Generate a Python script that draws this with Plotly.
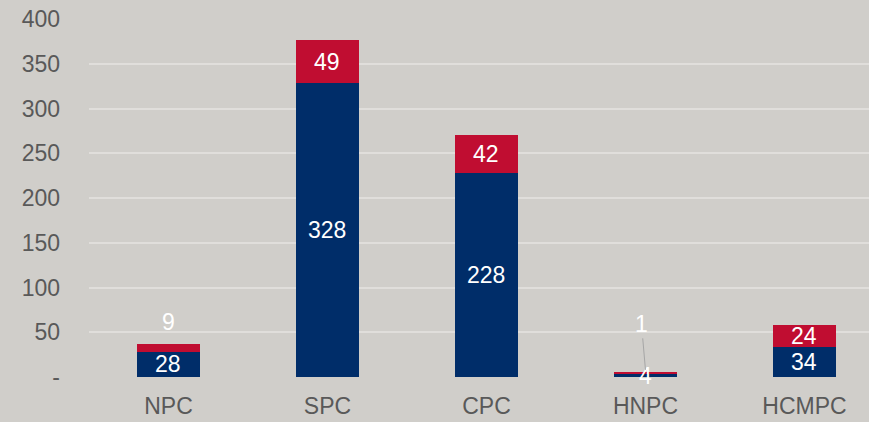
import plotly.graph_objects as go

categories = ["NPC", "SPC", "CPC", "HNPC", "HCMPC"]
series_blue = [28, 328, 228, 4, 34]
series_red = [9, 49, 42, 1, 24]
y_ticks = [0, 50, 100, 150, 200, 250, 300, 350, 400]
y_tick_labels = ["-", "50", "100", "150", "200", "250", "300", "350", "400"]

NAVY = "#002D69"
RED = "#C00D31"
BG = "#D0CECA"
GRID = "#E0DEDB"
TXT = "#595959"
FONT = "Liberation Sans, Arial, sans-serif"
FS = 23

fig = go.Figure()
fig.add_bar(x=categories, y=series_blue, marker=dict(color=NAVY, line=dict(width=0)),
            width=0.4, hoverinfo="skip")
fig.add_bar(x=categories, y=series_red, marker=dict(color=RED, line=dict(width=0)),
            width=0.4, hoverinfo="skip")

annotations = []
for i, c in enumerate(categories):
    b = series_blue[i]
    r = series_red[i]
    tot = b + r
    if tot >= 30 and b >= 20:
        annotations.append(dict(x=c, y=b / 2, text=str(b), showarrow=False,
                                font=dict(color="white", size=FS, family=FONT)))
    if r >= 20:
        annotations.append(dict(x=c, y=b + r / 2, text=str(r), showarrow=False,
                                font=dict(color="white", size=FS, family=FONT)))
    elif tot >= 30:
        annotations.append(dict(x=c, y=tot + 24, text=str(r), showarrow=False,
                                font=dict(color="white", size=FS, family=FONT)))
    if tot < 30:
        annotations.append(dict(x=c, y=b / 2, text=str(b), showarrow=False, yshift=-1,
                                font=dict(color="white", size=FS, family=FONT)))
        annotations.append(dict(x=c, y=tot + 3, text=str(r), showarrow=True,
                                arrowhead=0, arrowwidth=1, arrowcolor="#A6A6A6",
                                ax=-4, ay=-46, standoff=0,
                                font=dict(color="white", size=FS, family=FONT)))

fig.update_layout(
    barmode="stack",
    width=869, height=422,
    margin=dict(l=89, r=0, t=19, b=45),
    paper_bgcolor=BG, plot_bgcolor=BG,
    showlegend=False,
    font=dict(family=FONT, color=TXT, size=FS),
    annotations=annotations,
    xaxis=dict(range=[-0.5, 4.406], showgrid=False, zeroline=False, showline=False,
               ticks="", ticklabelstandoff=13,
               tickfont=dict(size=FS, color=TXT, family=FONT)),
    yaxis=dict(range=[0, 400], tickvals=y_ticks, ticktext=y_tick_labels,
               showgrid=True, gridcolor=GRID, gridwidth=1.5, zeroline=False,
               showline=False, ticks="", ticklabelstandoff=28,
               tickfont=dict(size=FS, color=TXT, family=FONT)),
)

fig.write_html("out.html", config={"displayModeBar": False},
               post_script="document.body.style.margin='0';document.body.style.padding='0';")
